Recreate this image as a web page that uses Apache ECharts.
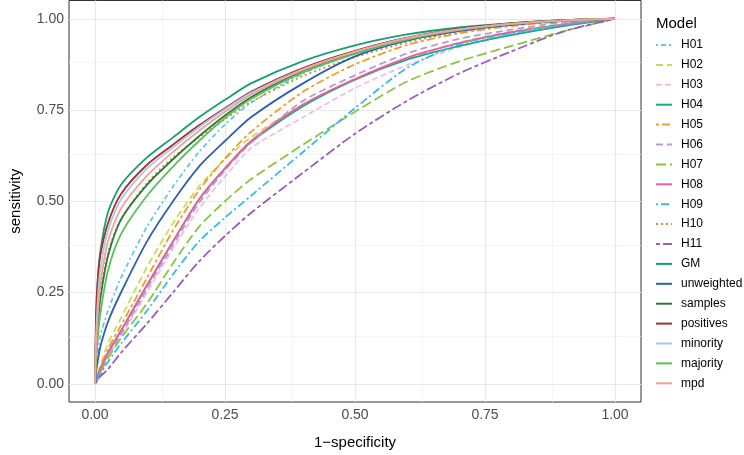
<!DOCTYPE html>
<html>
<head>
<meta charset="utf-8">
<script src="https://cdn.jsdelivr.net/npm/echarts@6/dist/echarts.min.js"></script>
<style>
  html, body { margin: 0; padding: 0; background: #fff; }
  #roc { width: 744px; height: 455px; }
</style>
</head>
<body>
<div id="roc"></div>
<script>
// ROC curves per model at shared 1-specificity points
var fpr = [0, 0.002, 0.005, 0.01, 0.025, 0.05, 0.1, 0.15, 0.2, 0.25, 0.3, 0.4, 0.5, 0.6, 0.7, 0.8, 0.9, 1];

var H01 = [0, 0.04, 0.08, 0.13, 0.2, 0.29, 0.43, 0.54, 0.635, 0.71, 0.77, 0.85, 0.905, 0.942, 0.968, 0.984, 0.994, 1];
var H02 = [0, 0.01, 0.025, 0.05, 0.11, 0.18, 0.32, 0.44, 0.54, 0.615, 0.675, 0.765, 0.835, 0.89, 0.935, 0.965, 0.985, 1];
var H03 = [0, 0.008, 0.018, 0.035, 0.075, 0.13, 0.25, 0.37, 0.48, 0.568, 0.645, 0.73, 0.81, 0.873, 0.922, 0.958, 0.984, 1];
var H04 = [0, 0.01, 0.02, 0.04, 0.085, 0.145, 0.27, 0.39, 0.505, 0.59, 0.662, 0.76, 0.833, 0.888, 0.925, 0.955, 0.98, 1];
var H05 = [0, 0.01, 0.02, 0.04, 0.095, 0.16, 0.29, 0.42, 0.53, 0.617, 0.69, 0.8, 0.875, 0.928, 0.96, 0.98, 0.993, 1];
var H06 = [0, 0.008, 0.018, 0.035, 0.08, 0.135, 0.26, 0.38, 0.495, 0.585, 0.66, 0.775, 0.845, 0.905, 0.945, 0.97, 0.99, 1];
var H07 = [0, 0.006, 0.014, 0.03, 0.07, 0.125, 0.22, 0.33, 0.43, 0.5, 0.56, 0.655, 0.745, 0.828, 0.883, 0.925, 0.965, 1];
var H08 = [0, 0.01, 0.02, 0.04, 0.085, 0.145, 0.27, 0.39, 0.505, 0.59, 0.665, 0.765, 0.835, 0.893, 0.933, 0.963, 0.984, 1];
var H09 = [0, 0.005, 0.012, 0.025, 0.06, 0.11, 0.2, 0.3, 0.39, 0.455, 0.515, 0.635, 0.755, 0.865, 0.93, 0.96, 0.985, 1];
var H10 = [0, 0.09, 0.17, 0.25, 0.36, 0.45, 0.55, 0.62, 0.675, 0.725, 0.772, 0.843, 0.895, 0.935, 0.964, 0.983, 0.994, 1];
var H11 = [0, 0.004, 0.01, 0.02, 0.04, 0.085, 0.165, 0.25, 0.335, 0.405, 0.468, 0.578, 0.685, 0.775, 0.85, 0.91, 0.965, 1];
var GM = [0, 0.15, 0.27, 0.36, 0.47, 0.545, 0.62, 0.675, 0.73, 0.778, 0.823, 0.884, 0.927, 0.957, 0.976, 0.988, 0.996, 1];
var unweighted = [0, 0.03, 0.06, 0.1, 0.17, 0.25, 0.39, 0.5, 0.595, 0.665, 0.73, 0.823, 0.897, 0.94, 0.966, 0.983, 0.994, 1];
var samples = [0, 0.08, 0.15, 0.23, 0.35, 0.45, 0.545, 0.615, 0.678, 0.735, 0.785, 0.857, 0.907, 0.945, 0.97, 0.985, 0.995, 1];
var positives = [0, 0.19, 0.28, 0.35, 0.44, 0.52, 0.6, 0.655, 0.708, 0.755, 0.8, 0.865, 0.912, 0.948, 0.972, 0.987, 0.996, 1];
var minority = [0, 0.12, 0.22, 0.31, 0.42, 0.505, 0.59, 0.648, 0.703, 0.752, 0.797, 0.862, 0.91, 0.947, 0.971, 0.986, 0.995, 1];
var majority = [0, 0.06, 0.12, 0.19, 0.31, 0.41, 0.515, 0.595, 0.665, 0.728, 0.78, 0.853, 0.904, 0.943, 0.969, 0.985, 0.995, 1];
var mpd = [0, 0.1, 0.18, 0.27, 0.39, 0.48, 0.57, 0.635, 0.693, 0.745, 0.792, 0.86, 0.909, 0.946, 0.97, 0.986, 0.995, 1];

var models = ['H01', 'H02', 'H03', 'H04', 'H05', 'H06', 'H07', 'H08', 'H09', 'H10', 'H11',
              'GM', 'unweighted', 'samples', 'positives', 'minority', 'majority', 'mpd'];
var tprs = [H01, H02, H03, H04, H05, H06, H07, H08, H09, H10, H11,
            GM, unweighted, samples, positives, minority, majority, mpd];

var majorTicks = [0, 0.25, 0.5, 0.75, 1];
var minorTicks = [0.125, 0.375, 0.625, 0.875];

// colour and dash per model
var colors = ['#62c9df', '#cbdb58', '#f1c0df', '#1fa887', '#eb9f2b', '#b99ad9', '#8cc43c', '#ea5fa0', '#33bbee',
              '#d18b3a', '#9a5cbd', '#16a070', '#2d5fb5', '#2a7a3a', '#a8302a', '#a7c7ee', '#5bbf5b', '#f6a09a'];
var dashes = [[2, 3, 5, 3], [7, 4], [6, 3], 'solid', [3, 3, 8, 3], [7, 4], [10, 4], 'solid', [2, 3, 8, 3],
              [2, 3], [4, 3, 10, 3], 'solid', 'solid', 'solid', 'solid', 'solid', 'solid', 'solid'];

var FONT = '"Liberation Sans", Arial, sans-serif';

var chart = echarts.init(document.getElementById('roc'));

// background grid drawn as mark lines (axis range is padded by 5%)
var gridLines = [];
majorTicks.forEach(function (v) {
  gridLines.push({ xAxis: v, lineStyle: { color: '#e8e8e8', width: 1.2, type: 'solid' } });
  gridLines.push({ yAxis: v, lineStyle: { color: '#e8e8e8', width: 1.2, type: 'solid' } });
});
minorTicks.forEach(function (v) {
  gridLines.push({ xAxis: v, lineStyle: { color: '#f0f0f0', width: 0.7, type: 'solid' } });
  gridLines.push({ yAxis: v, lineStyle: { color: '#f0f0f0', width: 0.7, type: 'solid' } });
});

var series = [{
  name: 'grid',
  type: 'line',
  data: [[0, 0]],
  showSymbol: false,
  silent: true,
  lineStyle: { opacity: 0 },
  z: 0,
  markLine: {
    silent: true,
    symbol: ['none', 'none'],
    label: { show: false },
    z: 1,
    animation: false,
    data: gridLines
  }
}];

models.forEach(function (name, i) {
  series.push({
    name: name,
    type: 'line',
    data: fpr.map(function (x, j) { return [x, tprs[i][j]]; }),
    showSymbol: false,
    symbol: 'none',
    smooth: 0.25,
    z: 3,
    color: colors[i],
    lineStyle: { color: colors[i], width: 1.8, type: dashes[i] }
  });
});

var option = {
  animation: false,
  backgroundColor: '#fff',
  title: {
    text: 'Model',
    left: 651,
    top: 11,
    textStyle: { fontFamily: FONT, fontSize: 15, fontWeight: 'normal', color: '#000' }
  },
  legend: {
    data: models,
    orient: 'vertical',
    left: 655,
    top: 39,
    itemWidth: 16,
    itemHeight: 14,
    itemGap: 7.9,
    padding: 0,
    itemStyle: { opacity: 0 },
    textStyle: { fontFamily: FONT, fontSize: 12, color: '#000', padding: [0, 0, 0, 4] }
  },
  grid: {
    left: 65,
    right: 103,
    top: 0.5,
    bottom: 51,
    show: true,
    borderColor: '#333',
    borderWidth: 1,
    backgroundColor: 'transparent'
  },
  xAxis: {
    type: 'value',
    min: -0.05,
    max: 1.05,
    name: '1\u2212specificity',
    nameLocation: 'middle',
    nameGap: 33,
    nameTextStyle: { fontFamily: FONT, fontSize: 15, color: '#000' },
    axisLine: { show: false },
    axisTick: { show: true, length: 3, customValues: majorTicks, lineStyle: { color: '#333' } },
    axisLabel: {
      customValues: majorTicks,
      margin: 6,
      fontFamily: FONT, fontSize: 14, color: '#4d4d4d',
      formatter: function (v) { return v.toFixed(2); }
    },
    splitLine: { show: false }
  },
  yAxis: {
    type: 'value',
    min: -0.05,
    max: 1.05,
    name: 'sensitivity',
    nameLocation: 'middle',
    nameGap: 46,
    nameTextStyle: { fontFamily: FONT, fontSize: 15, color: '#000' },
    axisLine: { show: false },
    axisTick: { show: true, length: 3, customValues: majorTicks, lineStyle: { color: '#333' } },
    axisLabel: {
      customValues: majorTicks,
      margin: 5,
      fontFamily: FONT, fontSize: 14, color: '#4d4d4d',
      formatter: function (v) { return v.toFixed(2); }
    },
    splitLine: { show: false }
  },
  series: series
};

chart.setOption(option);
</script>
</body>
</html>
